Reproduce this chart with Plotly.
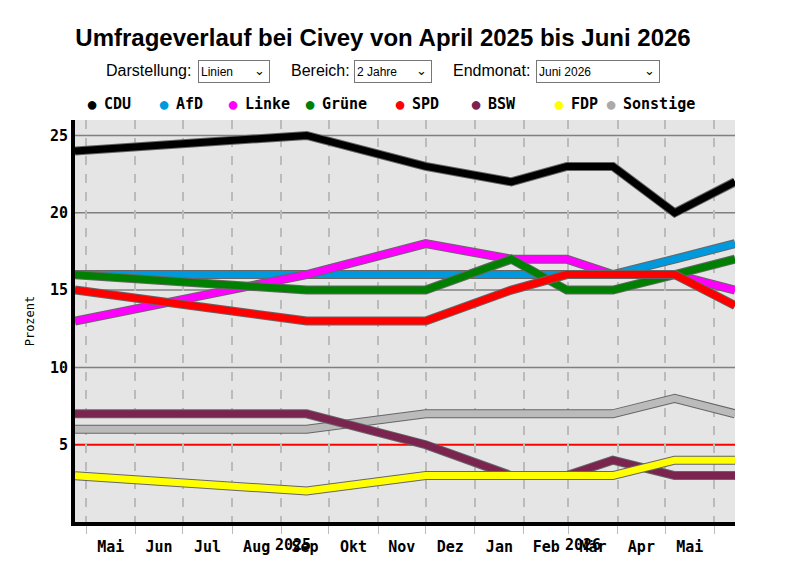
import plotly.graph_objects as go

dates = ["2025-04-24", "2025-09-17", "2025-12-01", "2026-01-24",
         "2026-02-28", "2026-03-29", "2026-05-07", "2026-06-14"]

parties = ["CDU", "AfD", "Linke", "Grüne", "SPD", "BSW", "FDP", "Sonstige"]
colors = ["#000000", "#0099dd", "#ff00ff", "#008000", "#ff0000", "#7b2450", "#ffff00", "#bbbbbb"]

cdu = [24, 25, 23, 22, 23, 23, 20, 22]
afd = [16, 16, 16, 16, 16, 16, 17, 18]
linke = [13, 16, 18, 17, 17, 16, 16, 15]
gruene = [16, 15, 15, 17, 15, 15, 16, 17]
spd = [15, 13, 13, 15, 16, 16, 16, 14]
bsw = [7, 7, 5, 3, 3, 4, 3, 3]
fdp = [3, 2, 3, 3, 3, 3, 4, 4]
sonstige = [6, 6, 7, 7, 7, 7, 8, 7]

values = [cdu, afd, linke, gruene, spd, bsw, fdp, sonstige]
draw_order = [7, 0, 1, 2, 3, 4, 5, 6]

fig = go.Figure()
for i in draw_order:
    fig.add_trace(go.Scatter(x=dates, y=values[i], mode="lines", showlegend=False,
                             line=dict(color="#666666", width=9), hoverinfo="skip"))
    fig.add_trace(go.Scatter(x=dates, y=values[i], mode="lines", name=parties[i],
                             showlegend=False, line=dict(color=colors[i], width=7)))

# Gitterlinien und 5%-Hürde
for g in [10, 15, 20, 25]:
    fig.add_hline(y=g, line=dict(color="#808080", width=1.5), layer="below")
fig.add_hline(y=5, line=dict(color="#ff0000", width=2), layer="below")

# Umrechnung Pixel -> paper (Plotfläche x 67..727, y 112..514)
def px(x):
    return (x - 67) / 660

def py(y):
    return (514 - y) / 402

mono = "DejaVu Sans Mono"
fig.update_layout(
    width=800, height=579,
    margin=dict(l=67, r=73, t=112, b=65, autoexpand=False),
    paper_bgcolor="white", plot_bgcolor="#e5e5e5",
    title=dict(text="<b>Umfrageverlauf bei Civey von April 2025 bis Juni 2026</b>",
               x=375 / 800, xanchor="center", y=1 - 30 / 579, yanchor="middle",
               font=dict(family="Liberation Sans", size=24, color="black")),
    xaxis=dict(type="date", range=["2025-04-24", "2026-06-14"],
               tick0="2025-05-01", dtick="M1", tickformat="%b", ticklabelmode="period",
               labelalias={"May": "Mai", "Oct": "Okt", "Dec": "Dez", "Mar": "Mär"},
               showgrid=True, gridcolor="#bbbbbb", griddash="dash", gridwidth=1.5,
               ticks="outside", ticklen=8, tickcolor="#bbbbbb",
               showline=True, linecolor="black", linewidth=4, zeroline=False,
               tickfont=dict(family=mono, size=15, color="black", weight="bold")),
    yaxis=dict(range=[0, 26], tickvals=[5, 10, 15, 20, 25], showgrid=False,
               showline=True, linecolor="black", linewidth=4, zeroline=False,
               ticks="", tickfont=dict(family=mono, size=15, color="black", weight="bold"),
               title=dict(text="Prozent", font=dict(family=mono, size=12, color="black"),
                          standoff=14)),
)

# Jahreszahlen
for yr, xp in [("2025", 265), ("2026", 595)]:
    fig.add_annotation(x=px(xp), y=py(548), xref="paper", yref="paper", text="<b>" + yr + "</b>",
                       showarrow=False, font=dict(family=mono, size=15, color="black"))

# Legende als Text
legend_x = [84, 156, 225, 302, 392, 468, 551, 603]
for name, col, lx in zip(parties, colors, legend_x):
    fig.add_annotation(x=px(lx), y=py(96), xref="paper", yref="paper", text="●",
                       showarrow=False, xanchor="center", yanchor="middle",
                       font=dict(size=20, color=col if name != "Sonstige" else "#aaaaaa"))
    fig.add_annotation(x=px(lx + 10), y=py(96), xref="paper", yref="paper", text="<b>" + name + "</b>",
                       showarrow=False, xanchor="left", yanchor="middle",
                       font=dict(family=mono, size=15, color="black"))

# Bedienelemente (nur optisch)
controls = [("Darstellung:", 96, "Linien", 190, 74), ("Bereich:", 281, "2 Jahre", 346, 80),
            ("Endmonat:", 443, "Juni 2026", 528, 126)]
for label, lx, val, bx, bw in controls:
    fig.add_annotation(x=px(lx), y=py(62), xref="paper", yref="paper", text=label, showarrow=False,
                       xanchor="left", yanchor="middle",
                       font=dict(family="Liberation Sans", size=16, color="black"))
    fig.add_annotation(x=px(bx), y=py(63), xref="paper", yref="paper", text=val, showarrow=False,
                       xanchor="left", yanchor="middle", align="left", width=bw - 8, height=17,
                       bordercolor="#767676", borderwidth=1, borderpad=2, bgcolor="white",
                       font=dict(family="Liberation Sans", size=12, color="black"))
    fig.add_annotation(x=px(bx + bw - 5), y=py(62), xref="paper", yref="paper", text="⌄",
                       showarrow=False, xanchor="right", yanchor="middle",
                       font=dict(family="DejaVu Sans", size=13, color="black"))

fig.add_annotation(x=px(162), y=py(582), xref="paper", yref="paper",
                   text="&gt; Barrierefreie Anzeige für Farbenfehlsichtigkeit aktivieren",
                   showarrow=False, xanchor="left", yanchor="middle",
                   font=dict(family="Liberation Sans", size=15, color="#0000ee"))

fig.write_html("out.html")
